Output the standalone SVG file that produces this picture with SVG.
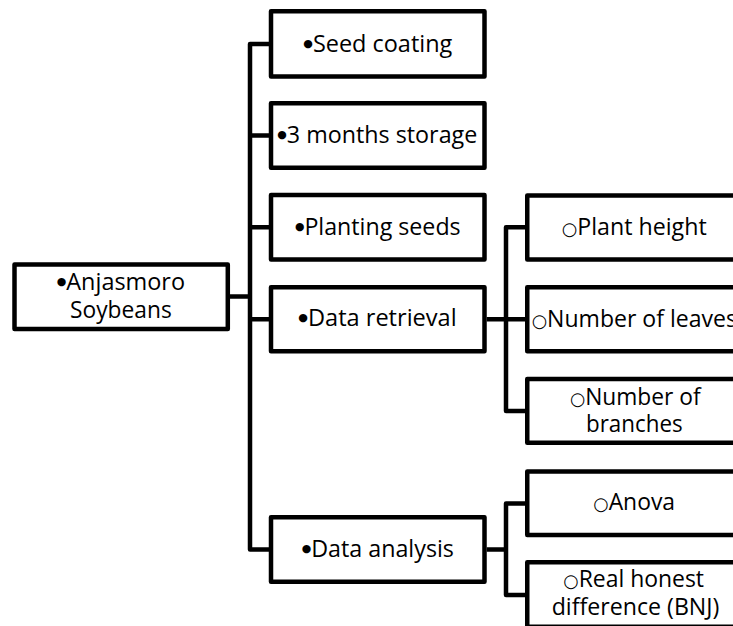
<svg xmlns="http://www.w3.org/2000/svg" width="733" height="626" viewBox="0 0 733 626">
<style>
.box{fill:#fff;stroke:#000;stroke-width:4.5;stroke-linejoin:round}
.con{fill:none;stroke:#000;stroke-width:4.5;stroke-linejoin:round}
text{font-family:"Open Sans","Noto Sans",sans-serif;font-size:23.5px;fill:#000;text-anchor:middle}
.b1{font-family:"DejaVu Sans",sans-serif;font-size:11px;baseline-shift:5.5px}
.b2{font-family:"DejaVu Sans",sans-serif;font-size:18px}
</style>
<rect width="733" height="626" fill="#fff"/>
<g id="connectors">
<path class="con" d="M230,296.5 H250"/>
<path class="con" d="M269,44 H250 V549.5 H269"/>
<path class="con" d="M250,135.5 H269 M250,227.2 H269 M250,319.2 H269"/>
<path class="con" d="M486.7,319.2 H506 M525,227.2 H506 V411 H525 M506,319.2 H525"/>
<path class="con" d="M486.7,549.5 H506 M525,503.5 H506 V595 H525"/>
</g>
<g id="root">
<rect class="box" x="14.5" y="264.5" width="213.3" height="64.5"/>
<text><tspan x="120.9" y="290" textLength="128.3" lengthAdjust="spacingAndGlyphs"><tspan class="b1">●</tspan>Anjasmoro</tspan><tspan x="120.9" y="318.3" textLength="101.7" lengthAdjust="spacingAndGlyphs">Soybeans</tspan></text>
</g>
<g id="seed-coating">
<rect class="box" x="271" y="11.25" width="213.5" height="65.2"/>
<text x="377.8" y="51.7" textLength="149" lengthAdjust="spacingAndGlyphs"><tspan class="b1">●</tspan>Seed coating</text>
</g>
<g id="storage">
<rect class="box" x="271" y="103.25" width="213.5" height="64.5"/>
<text x="377.3" y="143.3" textLength="200" lengthAdjust="spacingAndGlyphs"><tspan class="b1">●</tspan>3 months storage</text>
</g>
<g id="planting">
<rect class="box" x="271" y="195" width="213.5" height="64.5"/>
<text x="377.8" y="235" textLength="165.7" lengthAdjust="spacingAndGlyphs"><tspan class="b1">●</tspan>Planting seeds</text>
</g>
<g id="data-retrieval">
<rect class="box" x="271" y="287.25" width="213.5" height="64"/>
<text x="377.5" y="326" textLength="158.3" lengthAdjust="spacingAndGlyphs"><tspan class="b1">●</tspan>Data retrieval</text>
</g>
<g id="data-analysis">
<rect class="box" x="271" y="517.25" width="213.5" height="64.5"/>
<text x="377.8" y="556.7" textLength="152.3" lengthAdjust="spacingAndGlyphs"><tspan class="b1">●</tspan>Data analysis</text>
</g>
<g id="plant-height">
<rect class="box" x="527.25" y="195.5" width="214" height="64"/>
<text x="634.2" y="235" textLength="145" lengthAdjust="spacingAndGlyphs"><tspan class="b2">○</tspan>Plant height</text>
</g>
<g id="leaves">
<rect class="box" x="527.25" y="287.25" width="214" height="64"/>
<text x="634.3" y="326.7" textLength="205.2" lengthAdjust="spacingAndGlyphs"><tspan class="b2">○</tspan>Number of leaves</text>
</g>
<g id="branches">
<rect class="box" x="527.25" y="379" width="214" height="63.8"/>
<text><tspan x="635.3" y="405" textLength="130.7" lengthAdjust="spacingAndGlyphs"><tspan class="b2">○</tspan>Number of</tspan><tspan x="634.3" y="431.7" textLength="96.7" lengthAdjust="spacingAndGlyphs">branches</tspan></text>
</g>
<g id="anova">
<rect class="box" x="527.25" y="471.5" width="214" height="63.6"/>
<text x="634.2" y="510" textLength="81.7" lengthAdjust="spacingAndGlyphs"><tspan class="b2">○</tspan>Anova</text>
</g>
<g id="bnj">
<rect class="box" x="527.25" y="562.3" width="214" height="64.5"/>
<text><tspan x="633.7" y="586.7" textLength="140.7" lengthAdjust="spacingAndGlyphs"><tspan class="b2">○</tspan>Real honest</tspan><tspan x="635.5" y="615" textLength="167.7" lengthAdjust="spacingAndGlyphs">difference (BNJ)</tspan></text>
</g>
</svg>
